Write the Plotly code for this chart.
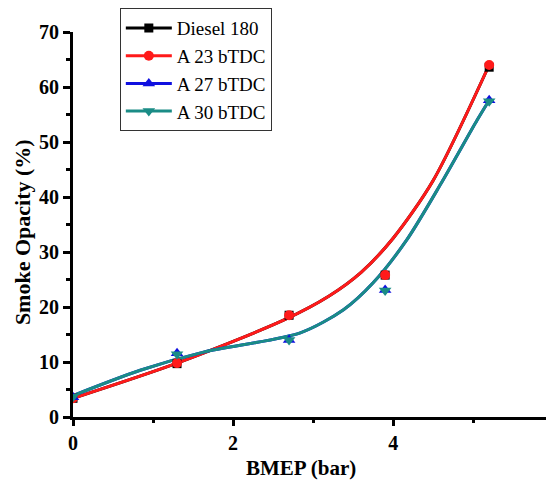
import plotly.graph_objects as go

# Measured data points
bmep = [0, 1.3, 2.7, 3.9, 5.2]
diesel_180 = [3.4, 9.7, 18.5, 25.8, 63.6]
a_23 = [3.4, 9.8, 18.5, 25.8, 64.0]
a_27 = [3.6, 11.6, 14.0, 23.1, 57.6]
a_30 = [3.7, 11.4, 14.0, 23.0, 57.4]

# Smoothed fit curves
fit_red_x = [0, 1.3, 2.63, 3.2, 3.6, 4.0, 4.5, 5.2]
fit_red_y = [3.4, 9.8, 17.6, 22.0, 26.3, 32.5, 43.0, 64.0]
fit_teal_x = [0, 0.84, 1.63, 2.84, 3.38, 3.75, 4.17, 4.6, 5.05, 5.2]
fit_teal_y = [3.9, 8.5, 11.8, 15.3, 19.5, 24.4, 32.2, 42.5, 54.0, 57.6]

series_names = ["Diesel 180", "A 23 bTDC", "A 27 bTDC", "A 30 bTDC"]
x_tick_vals = [0, 2, 4]
y_tick_vals = [0, 10, 20, 30, 40, 50, 60, 70]

BLACK = "#000000"
RED = "#ff1a1a"
BLUE = "#1010e0"
TEAL = "#1a8c86"
FONT = "Liberation Serif"

fig = go.Figure()

curves = [
    (fit_red_x, fit_red_y, BLACK),
    (fit_red_x, fit_red_y, RED),
    (fit_teal_x, fit_teal_y, BLUE),
    (fit_teal_x, fit_teal_y, TEAL),
]
for cx, cy, col in curves:
    fig.add_trace(go.Scatter(x=cx, y=cy, mode="lines",
                             line=dict(color=col, width=3, shape="spline", smoothing=0.8),
                             showlegend=False, hoverinfo="skip"))

marker_specs = [
    (diesel_180, BLACK, "square", 9),
    (a_23, RED, "circle", 10),
    (a_27, BLUE, "triangle-up", 11),
    (a_30, TEAL, "triangle-down", 11),
]
for (vals, col, sym, sz) in marker_specs:
    fig.add_trace(go.Scatter(x=bmep, y=vals, mode="markers",
                             marker=dict(color=col, symbol=sym, size=sz, line=dict(width=0)),
                             showlegend=False))

for name, (vals, col, sym, sz) in zip(series_names, marker_specs):
    fig.add_trace(go.Scatter(x=[None], y=[None], mode="lines+markers", name=name,
                             line=dict(color=col, width=3),
                             marker=dict(color=col, symbol=sym, size=sz)))

fig.update_layout(
    width=546, height=487,
    margin=dict(l=73, r=0, t=32, b=70, autoexpand=False),
    paper_bgcolor="white", plot_bgcolor="white",
    font=dict(family=FONT, color="black"),
    legend=dict(x=0.099, y=1.062, xanchor="left", yanchor="top",
                bgcolor="white", bordercolor="#333333", borderwidth=1,
                font=dict(family=FONT, size=19, color="black"),
                tracegroupgap=0, itemwidth=46),
    showlegend=True,
    annotations=[
        dict(text="<b>BMEP (bar)</b>", xref="paper", yref="paper", x=0.482, y=-0.132,
             xanchor="center", yanchor="middle", showarrow=False,
             font=dict(family=FONT, size=21, color="black")),
        dict(text="<b>Smoke Opacity (%)</b>", xref="paper", yref="paper", x=-0.108, y=0.48,
             xanchor="center", yanchor="middle", showarrow=False, textangle=-90,
             font=dict(family=FONT, size=22, color="black")),
    ],
)

fig.update_xaxes(
    range=[0, 5.91], showgrid=False, zeroline=False, automargin=False,
    showline=True, linecolor="black", linewidth=3,
    tickmode="array", tickvals=x_tick_vals, ticktext=[str(v) for v in x_tick_vals],
    ticks="outside", ticklen=6, tickwidth=2.5, tickcolor="black",
    minor=dict(tickvals=[1, 3, 5], ticks="outside", ticklen=3, tickwidth=2.5, tickcolor="black"),
    tickfont=dict(family=FONT, size=20, color="black", weight="bold"),
)
fig.update_yaxes(
    range=[0, 70], showgrid=False, zeroline=False, automargin=False,
    showline=True, linecolor="black", linewidth=3,
    tickmode="array", tickvals=y_tick_vals, ticktext=[str(v) for v in y_tick_vals],
    ticks="outside", ticklen=7, tickwidth=2.5, tickcolor="black",
    minor=dict(tickvals=[5, 15, 25, 35, 45, 55, 65], ticks="outside", ticklen=4, tickwidth=2.5, tickcolor="black"),
    tickfont=dict(family=FONT, size=20, color="black", weight="bold"),
)

fig.write_html("out.html", config={"displayModeBar": False},
               post_script="document.body.style.margin='0';")
